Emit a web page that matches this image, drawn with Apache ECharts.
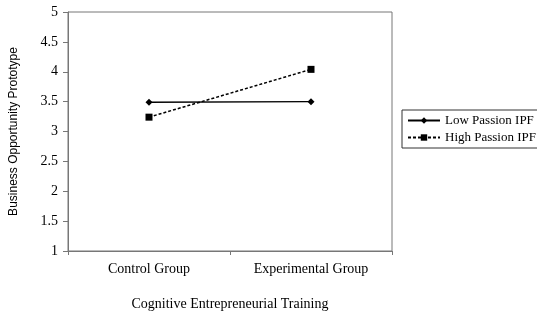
<!DOCTYPE html>
<html>
<head>
<meta charset="utf-8">
<script src="https://cdn.jsdelivr.net/npm/echarts@6/dist/echarts.min.js"></script>
<style>
html, body { margin: 0; padding: 0; background: #fff; }
#main { width: 537px; height: 313px; }
</style>
</head>
<body>
<div id="main"></div>
<script>
var categories = ['Control Group', 'Experimental Group'];
var lowPassion = [3.49, 3.5];
var highPassion = [3.24, 4.04];
var yTicks = { min: 1, max: 5, interval: 0.5 };

var myChart = echarts.init(document.getElementById('main'));
var serif = '"Liberation Serif", "Times New Roman", serif';
var sans = '"Liberation Sans", Arial, sans-serif';

var option = {
	backgroundColor: '#fff',
	animation: false,
	textStyle: { fontFamily: serif, color: '#000' },
	grid: {
		left: 68, right: 145, top: 12, bottom: 62,
		outerBoundsMode: 'none',
		containLabel: false,
		show: true, borderColor: '#777', borderWidth: 1
	},
	legend: {
		orient: 'vertical',
		left: 402, top: 110,
		borderColor: '#333', borderWidth: 1,
		padding: [4, 4, 4, 5],
		itemGap: 4,
		itemWidth: 32, itemHeight: 8,
		textStyle: { fontFamily: serif, fontSize: 13, color: '#000' },
		data: ['Low Passion IPF', 'High Passion IPF']
	},
	xAxis: {
		type: 'category',
		data: categories,
		boundaryGap: true,
		name: 'Cognitive Entrepreneurial Training',
		nameLocation: 'middle',
		nameGap: 46,
		nameTextStyle: { fontFamily: serif, fontSize: 14, color: '#000' },
		axisLine: { lineStyle: { color: '#777' } },
		axisTick: { show: true, length: 4, lineStyle: { color: '#777' } },
		axisLabel: { fontFamily: serif, fontSize: 14, color: '#000', margin: 11 }
	},
	yAxis: {
		type: 'value',
		min: yTicks.min, max: yTicks.max, interval: yTicks.interval,
		name: 'Business Opportunity Prototype',
		nameLocation: 'middle',
		nameGap: 48,
		nameTextStyle: { fontFamily: sans, fontSize: 12, color: '#000' },
		axisLine: { show: true, lineStyle: { color: '#777' } },
		axisTick: { show: true, length: 5, lineStyle: { color: '#777' } },
		splitLine: { show: false },
		axisLabel: { fontFamily: serif, fontSize: 14, color: '#000', margin: 10 }
	},
	series: [{
		name: 'Low Passion IPF',
		type: 'line',
		data: lowPassion,
		symbol: 'diamond',
		symbolSize: 7,
		itemStyle: { color: '#000' },
		lineStyle: { color: '#000', width: 1.5, type: 'solid' }
	}, {
		name: 'High Passion IPF',
		type: 'line',
		data: highPassion,
		symbol: 'rect',
		symbolSize: 7,
		itemStyle: { color: '#000' },
		lineStyle: { color: '#000', width: 1.5, type: [3, 2] }
	}]
};
myChart.setOption(option);
</script>
</body>
</html>
